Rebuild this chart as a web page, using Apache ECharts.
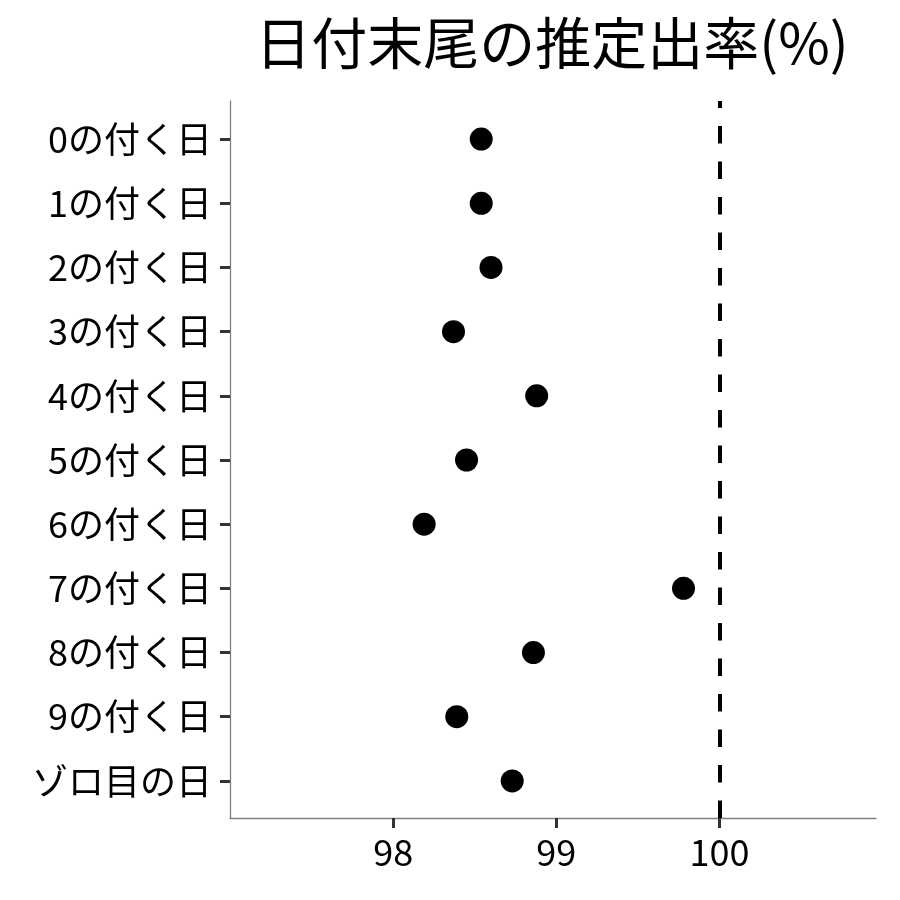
<!DOCTYPE html>
<html>
<head>
<meta charset="utf-8">
<script src="https://cdn.jsdelivr.net/npm/echarts@6/dist/echarts.min.js"></script>
<style>
  html, body { margin: 0; padding: 0; background: #fff; }
  #main { width: 900px; height: 900px; }
</style>
</head>
<body>
<div id="main"></div>
<script>
// 日付末尾ごとの推定出率
var dayLabels = ['0の付く日', '1の付く日', '2の付く日', '3の付く日', '4の付く日',
  '5の付く日', '6の付く日', '7の付く日', '8の付く日', '9の付く日', 'ゾロ目の日'];
var rates = [98.54, 98.54, 98.60, 98.37, 98.88, 98.45, 98.19, 99.78, 98.86, 98.39, 98.73];
var xTicks = [98, 99, 100];
var refLine = 100;

var font = '"Noto Sans CJK JP", "Noto Sans", sans-serif';
var chart = echarts.init(document.getElementById('main'), null, { width: 900, height: 900 });

var option = {
  backgroundColor: '#ffffff',
  animation: false,
  title: {
    text: '日付末尾の推定出率(%)',
    left: 547,
    top: 10,
    textAlign: 'center',
    textStyle: { fontFamily: font, fontSize: 56, fontWeight: 'normal', color: '#000' }
  },
  grid: [
    // 点を置くグリッド(カテゴリの余白を ggplot に合わせる)
    { left: 230, right: 24, top: 107, bottom: 87 },
    // 軸線・目盛・点線用
    { left: 230, right: 24, top: 101, bottom: 82 }
  ],
  xAxis: [
    { gridIndex: 0, type: 'value', min: 97, max: 100.96, show: false },
    {
      gridIndex: 1, type: 'value', min: 97, max: 100.96,
      axisLine: { lineStyle: { color: '#7f7f7f', width: 1.3 } },
      axisTick: { show: true, customValues: xTicks, length: 10, lineStyle: { color: '#333', width: 3 } },
      axisLabel: { customValues: xTicks, fontFamily: font, fontSize: 36, color: '#000', margin: 16 },
      splitLine: { show: false }
    }
  ],
  yAxis: [
    {
      gridIndex: 0, type: 'category', data: dayLabels, inverse: true,
      axisLine: { show: false },
      axisTick: { show: true, alignWithLabel: true, length: 10, lineStyle: { color: '#333', width: 3 } },
      axisLabel: { fontFamily: font, fontSize: 36, color: '#000', margin: 18 },
      splitLine: { show: false }
    },
    {
      gridIndex: 1, type: 'value', min: 0, max: 1,
      axisLine: { show: true, lineStyle: { color: '#7f7f7f', width: 1.3 } },
      axisTick: { show: false },
      axisLabel: { show: false },
      splitLine: { show: false }
    }
  ],
  series: [
    {
      type: 'scatter',
      xAxisIndex: 0,
      yAxisIndex: 0,
      symbolSize: 23,
      itemStyle: { color: '#000', opacity: 1 },
      data: rates.map(function (v, i) { return [v, dayLabels[i]]; })
    },
    {
      type: 'scatter',
      xAxisIndex: 1,
      yAxisIndex: 1,
      data: [],
      markLine: {
        silent: true,
        symbol: 'none',
        label: { show: false },
        lineStyle: { color: '#000', width: 4, type: [17.5, 18] },
        data: [{ xAxis: refLine }]
      }
    }
  ]
};
chart.setOption(option);
</script>
</body>
</html>
